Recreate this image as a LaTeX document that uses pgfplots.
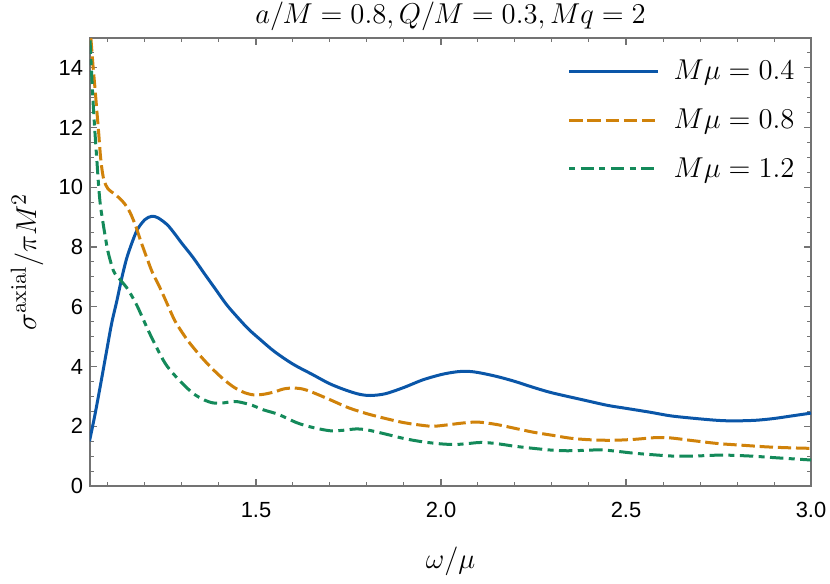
\documentclass[border=0pt]{standalone}
\usepackage[no-math]{fontspec}
\setmainfont{Liberation Sans}
\usepackage{pgfplots}
\pgfplotsset{compat=1.18}
\definecolor{cblue}{RGB}{10,86,168}
\definecolor{corange}{RGB}{208,130,10}
\definecolor{cgreen}{RGB}{20,138,90}
\begin{document}
\begin{tikzpicture}
\useasboundingbox (-45bp,-49bp) rectangle (370bp,243bp);
\begin{axis}[
  scale only axis, width=360.5bp, height=224bp,
  xmin=1.0514, xmax=3.0, ymin=0, ymax=15,
  xtick={1.5,2.0,2.5,3.0}, minor xtick={1.1,1.2,...,2.95},
  ytick={0,2,...,14}, minor ytick={0.5,1,...,15},
  tick pos=both, tick align=inside,
  major tick length=3.5bp, minor tick length=2bp,
  axis line style={black!55, line width=0.6bp},
  every tick/.style={black!55, line width=0.6bp},
  every minor tick/.style={black!55, line width=0.5bp},
  /pgf/number format/assume math mode=true,
  ticklabel style={font=\fontsize{11}{13}\selectfont},
  xticklabel style={yshift=-4.5bp, /pgf/number format/.cd, fixed, fixed zerofill, precision=1},
  yticklabel style={/pgf/number format/.cd, fixed, precision=0},
  title={$a/M=0.8, Q/M=0.3, Mq=2$},
  every axis title/.style={font=\fontsize{14.5}{17}\selectfont, at={(axis description cs:0.5,1)}, anchor=base, inner sep=0pt, yshift=7bp},
  xlabel={$\omega/\mu$},
  every axis x label/.style={font=\fontsize{15}{18}\selectfont, at={(axis description cs:0.5,0)}, anchor=center, yshift=-37.5bp},
  ylabel={$\sigma^{\mathrm{axial}}/\pi M^2$},
  every axis y label/.style={font=\fontsize{15}{18}\selectfont, at={(axis description cs:0,0.5)}, anchor=center, xshift=-31.5bp, rotate=90},
  legend style={at={(axis description cs:0.662,0.96)}, anchor=north west, draw=none, fill=none,
    font=\fontsize{13.3}{16}\selectfont, row sep=9bp, inner sep=0pt},
  legend cell align=left,
  legend image code/.code={\draw[#1] (0bp,0bp) -- (44.5bp,0bp); \path (49.5bp,0bp);},
  clip=true,
]
\addplot[cblue, line width=1.5bp, smooth] coordinates {
(1.05,1.5)(1.065,2.4)(1.08,3.4)(1.096,4.5)(1.11,5.45)(1.124,6.2)(1.137,6.95)(1.15,7.6)(1.165,8.15)(1.18,8.6)(1.20,8.92)(1.218,9.03)(1.235,8.98)(1.26,8.75)(1.28,8.45)(1.30,8.12)(1.33,7.65)(1.36,7.12)(1.39,6.6)(1.42,6.08)(1.45,5.65)(1.48,5.25)(1.51,4.92)(1.55,4.5)(1.60,4.08)(1.65,3.75)(1.70,3.42)(1.745,3.2)(1.78,3.07)(1.81,3.03)(1.85,3.09)(1.90,3.3)(1.95,3.55)(2.0,3.73)(2.04,3.82)(2.07,3.84)(2.10,3.8)(2.15,3.67)(2.20,3.5)(2.25,3.3)(2.30,3.12)(2.385,2.88)(2.45,2.7)(2.50,2.6)(2.565,2.47)(2.62,2.35)(2.68,2.27)(2.745,2.2)(2.79,2.18)(2.85,2.2)(2.90,2.26)(2.95,2.35)(3.0,2.44)
};
\addlegendentry{$M\mu=0.4$}
\addplot[corange, line width=1.5bp, smooth, dash pattern=on 6.7bp off 2.4bp] coordinates {
(1.05,15.6)(1.055,14.8)(1.06,14.0)(1.065,13.3)(1.07,12.55)(1.075,11.8)(1.08,11.0)(1.085,10.5)(1.09,10.2)(1.10,9.95)(1.115,9.8)(1.13,9.65)(1.145,9.45)(1.16,9.15)(1.175,8.7)(1.19,8.15)(1.205,7.64)(1.22,7.15)(1.24,6.65)(1.26,6.1)(1.28,5.55)(1.30,5.15)(1.32,4.8)(1.35,4.35)(1.38,3.95)(1.41,3.6)(1.44,3.31)(1.47,3.12)(1.495,3.05)(1.52,3.07)(1.55,3.15)(1.575,3.25)(1.60,3.28)(1.625,3.25)(1.65,3.15)(1.70,2.89)(1.75,2.62)(1.80,2.42)(1.85,2.26)(1.90,2.12)(1.95,2.03)(1.98,2.0)(2.02,2.05)(2.06,2.11)(2.10,2.14)(2.15,2.06)(2.20,1.93)(2.25,1.8)(2.30,1.7)(2.35,1.6)(2.40,1.55)(2.46,1.53)(2.52,1.56)(2.58,1.62)(2.62,1.61)(2.68,1.52)(2.75,1.42)(2.82,1.36)(2.88,1.31)(2.94,1.28)(3.0,1.26)
};
\addlegendentry{$M\mu=0.8$}
\addplot[cgreen, line width=1.5bp, smooth, dash pattern=on 3bp off 2.7bp on 6.7bp off 2.7bp] coordinates {
(1.05,15.3)(1.055,14.0)(1.06,12.8)(1.065,11.8)(1.07,10.9)(1.075,10.0)(1.08,9.35)(1.09,8.55)(1.10,7.85)(1.115,7.2)(1.13,6.95)(1.15,6.65)(1.165,6.35)(1.18,6.0)(1.20,5.45)(1.22,4.92)(1.25,4.2)(1.27,3.85)(1.30,3.45)(1.33,3.1)(1.36,2.88)(1.385,2.78)(1.41,2.78)(1.44,2.83)(1.46,2.8)(1.49,2.7)(1.52,2.55)(1.56,2.4)(1.61,2.12)(1.65,1.97)(1.70,1.85)(1.74,1.87)(1.77,1.91)(1.80,1.88)(1.85,1.74)(1.90,1.59)(1.95,1.48)(2.0,1.41)(2.04,1.39)(2.08,1.43)(2.11,1.46)(2.15,1.42)(2.20,1.33)(2.25,1.26)(2.30,1.2)(2.34,1.18)(2.38,1.19)(2.43,1.21)(2.47,1.17)(2.52,1.1)(2.58,1.04)(2.63,1.0)(2.68,1.0)(2.74,1.03)(2.78,1.03)(2.84,1.0)(2.90,0.95)(2.95,0.91)(3.0,0.87)
};
\addlegendentry{$M\mu=1.2$}
\end{axis}
\end{tikzpicture}
\end{document}
